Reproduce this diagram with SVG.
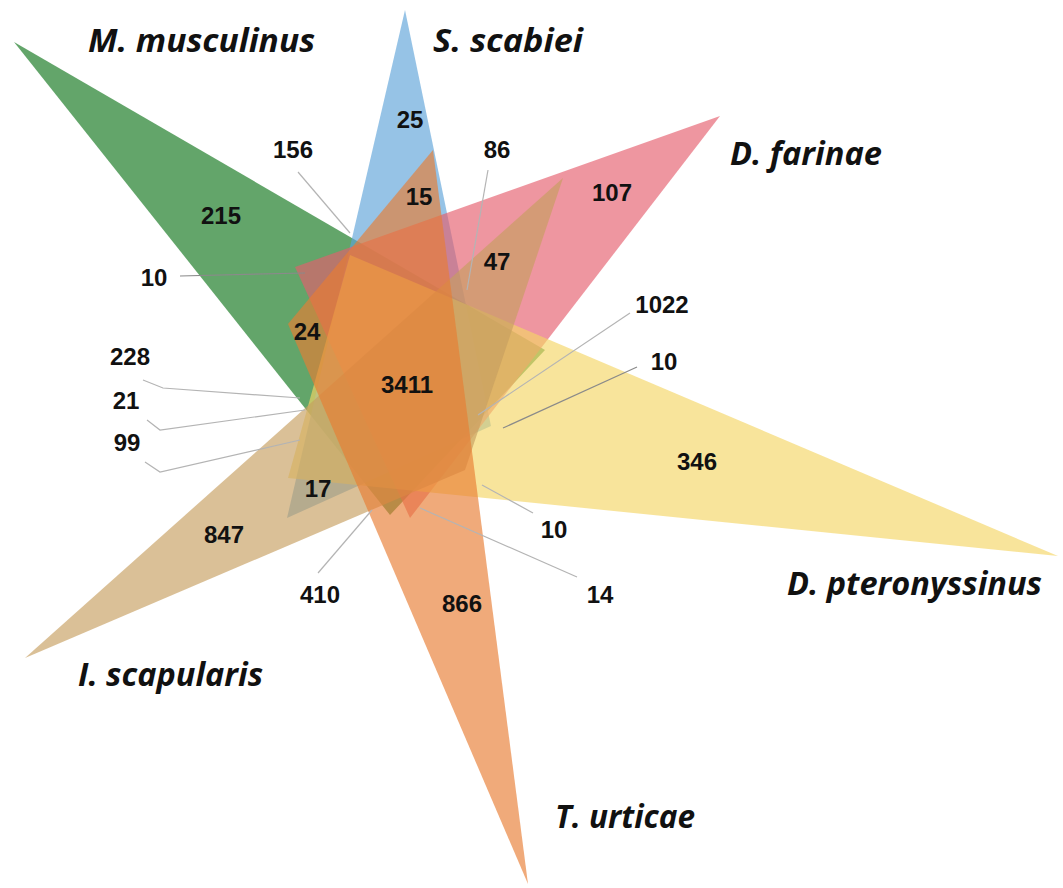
<svg xmlns="http://www.w3.org/2000/svg" width="1063" height="888" viewBox="0 0 1063 888">
<style>
.set{fill-opacity:0.65;stroke:none}
.num{font-family:"Liberation Sans",Arial,sans-serif;font-weight:bold;font-size:24px;fill:#111;text-anchor:middle}
.sp{font-family:"Open Sans","Liberation Sans",sans-serif;font-weight:bold;font-style:italic;font-size:32px;fill:#111}
.lead{fill:none;stroke:#b4b4b4;stroke-width:1.2}
</style>
<rect width="1063" height="888" fill="#fff"/>
<g id="sets">
<g id="m-musculinus"><polygon class="set" fill="#10751a" points="14,42 545,350 390,515"/></g>
<g id="s-scabiei"><polygon class="set" fill="#5da3d8" points="405,10 287,518 491,426"/></g>
<g id="d-farinae"><polygon class="set" fill="#e55e6d" points="720,116 295,267 410,518"/></g>
<g id="d-pteronyssinus"><polygon class="set" fill="#f4d665" points="1058,556 350,255 288,478"/></g>
<g id="i-scapularis"><polygon class="set" fill="#c69e60" points="25,658 563,178 465,470"/></g>
<g id="t-urticae"><polygon class="set" fill="#e87d32" points="528,884 433,150 288,324"/></g>
</g>
<g id="connectors">
<polyline class="lead" points="298,172 350,233"/>
<polyline class="lead" points="488,170 467,290"/>
<polyline class="lead" points="180,276 305,273" style="stroke:#8a8a8a"/>
<polyline class="lead" points="143,380 163,388 300,398"/>
<polyline class="lead" points="147,420 160,430 305,410"/>
<polyline class="lead" points="145,462 160,472 300,440"/>
<polyline class="lead" points="630,313 478,415"/>
<polyline class="lead" points="637,367 503,428" style="stroke:#8a8a8a"/>
<polyline class="lead" points="533,513 482,485"/>
<polyline class="lead" points="577,577 420,508"/>
<polyline class="lead" points="318,573 372,510"/>
</g>
<g id="counts">
<text class="num" x="410" y="128">25</text>
<text class="num" x="293" y="158">156</text>
<text class="num" x="497" y="158">86</text>
<text class="num" x="419" y="205">15</text>
<text class="num" x="221" y="224">215</text>
<text class="num" x="154" y="286">10</text>
<text class="num" x="497" y="270">47</text>
<text class="num" x="307" y="340">24</text>
<text class="num" x="130" y="365">228</text>
<text class="num" x="407" y="393">3411</text>
<text class="num" x="126" y="409">21</text>
<text class="num" x="127" y="451">99</text>
<text class="num" x="612" y="201">107</text>
<text class="num" x="662" y="313">1022</text>
<text class="num" x="664" y="370">10</text>
<text class="num" x="697" y="470">346</text>
<text class="num" x="554" y="538">10</text>
<text class="num" x="600" y="603">14</text>
<text class="num" x="318" y="497">17</text>
<text class="num" x="224" y="543">847</text>
<text class="num" x="320" y="603">410</text>
<text class="num" x="462" y="612">866</text>
</g>
<g id="labels">
<text class="sp" x="88" y="52" textLength="227" lengthAdjust="spacingAndGlyphs">M. musculinus</text>
<text class="sp" x="433" y="52" textLength="150" lengthAdjust="spacingAndGlyphs">S. scabiei</text>
<text class="sp" x="730" y="165" textLength="152" lengthAdjust="spacingAndGlyphs">D. farinae</text>
<text class="sp" x="787" y="595" textLength="255" lengthAdjust="spacingAndGlyphs">D. pteronyssinus</text>
<text class="sp" x="78" y="686" textLength="185" lengthAdjust="spacingAndGlyphs">I. scapularis</text>
<text class="sp" x="555" y="828" textLength="140" lengthAdjust="spacingAndGlyphs">T. urticae</text>
</g>
</svg>
